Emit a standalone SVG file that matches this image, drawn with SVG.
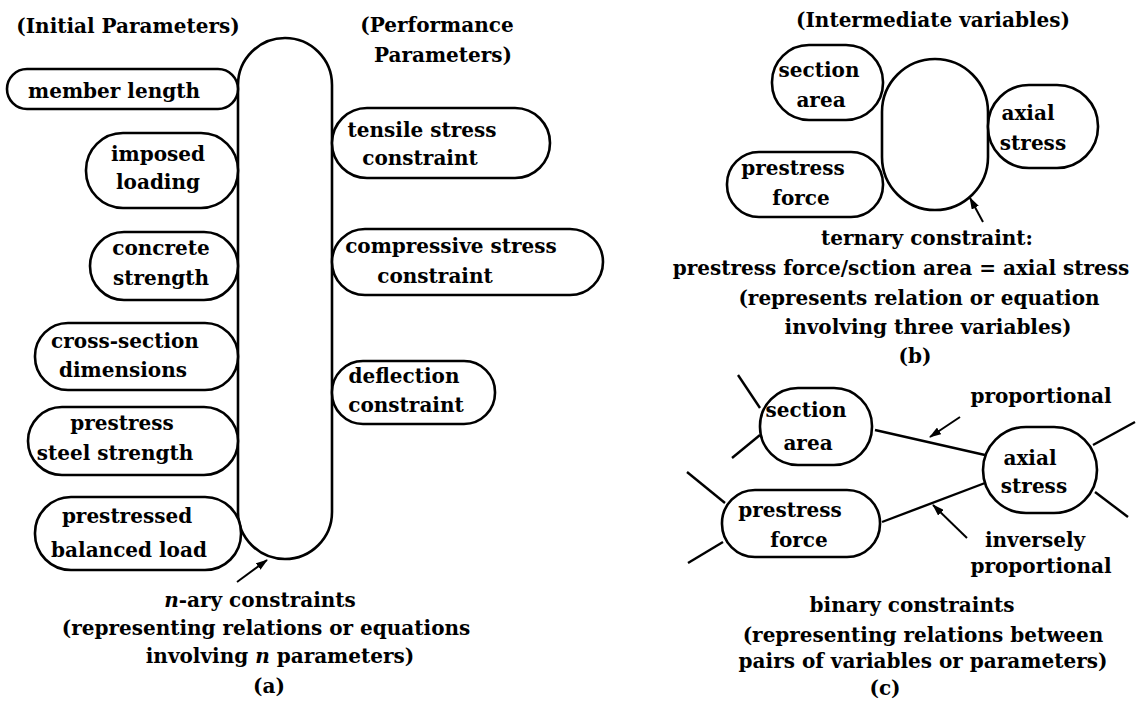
<svg xmlns="http://www.w3.org/2000/svg" width="1137" height="718" viewBox="0 0 1137 718">
<style>
text{font-family:"DejaVu Serif","Liberation Serif",serif;font-weight:bold;font-size:20px;fill:#000;text-anchor:middle}
.n{fill:#fff;stroke:#000;stroke-width:2.6}
.c{fill:none;stroke:#000;stroke-width:2.6}
.l{stroke:#000;stroke-width:2.4;fill:none}
.a{stroke:#000;stroke-width:2;fill:none;marker-end:url(#ah)}
</style>
<defs>
<marker id="ah" markerUnits="userSpaceOnUse" markerWidth="12" markerHeight="8" refX="11" refY="4" orient="auto">
<path d="M0,0 L12,4 L0,8 Z" fill="#000"/>
</marker>
</defs>
<rect width="1137" height="718" fill="#fff"/>

<!-- Panel (a) -->
<text x="128" y="33">(Initial Parameters)</text>
<text x="437" y="32">(Performance</text>
<text x="443" y="62">Parameters)</text>
<g id="nary"><rect class="c" x="238" y="38" width="94" height="521" rx="47"/></g>
<g id="member-length"><rect class="n" x="7" y="69" width="231" height="40" rx="20"/><text x="114" y="98">member length</text></g>
<g id="imposed-loading"><rect class="n" x="86" y="133" width="152" height="75" rx="37"/><text x="158" y="161">imposed</text><text x="158" y="189">loading</text></g>
<g id="concrete-strength"><rect class="n" x="90" y="232" width="148" height="68" rx="34"/><text x="161" y="255">concrete</text><text x="161" y="285">strength</text></g>
<g id="cross-section"><rect class="n" x="35" y="323" width="203" height="67" rx="33"/><text x="125" y="348">cross-section</text><text x="123" y="377">dimensions</text></g>
<g id="steel-strength"><rect class="n" x="28" y="407" width="210" height="68" rx="34"/><text x="122" y="430">prestress</text><text x="115" y="460">steel strength</text></g>
<g id="balanced-load"><rect class="n" x="35" y="497" width="206" height="73" rx="36"/><text x="127" y="523">prestressed</text><text x="129" y="557">balanced load</text></g>
<g id="tensile"><rect class="n" x="332" y="108" width="218" height="70" rx="35"/><text x="422" y="137">tensile stress</text><text x="420" y="165">constraint</text></g>
<g id="compressive"><rect class="n" x="332" y="229" width="271" height="66" rx="33"/><text x="451" y="253">compressive stress</text><text x="435" y="283">constraint</text></g>
<g id="deflection"><rect class="n" x="332" y="361" width="163" height="63" rx="31"/><text x="404" y="383">deflection</text><text x="406" y="412">constraint</text></g>
<text x="260" y="607"><tspan font-style="italic">n</tspan>-ary constraints</text>
<text x="266" y="635">(representing relations or equations</text>
<text x="280" y="663">involving <tspan font-style="italic">n</tspan> parameters)</text>
<text x="269" y="693">(a)</text>

<!-- Panel (b) -->
<text x="933" y="27">(Intermediate variables)</text>
<g id="ternary"><rect class="c" x="882" y="59" width="106" height="151" rx="53"/></g>
<g id="b-section-area"><rect class="n" x="772" y="45" width="111" height="75" rx="37"/><text x="819" y="77">section</text><text x="821" y="107">area</text></g>
<g id="b-prestress-force"><rect class="n" x="727" y="152" width="156" height="65" rx="32"/><text x="793" y="175">prestress</text><text x="801" y="205">force</text></g>
<g id="b-axial-stress"><rect class="n" x="988" y="85" width="110" height="83" rx="41"/><text x="1028" y="120">axial</text><text x="1033" y="150">stress</text></g>
<text x="927" y="245">ternary constraint:</text>
<text x="901" y="275">prestress force/sction area = axial stress</text>
<text x="919" y="305">(represents relation or equation</text>
<text x="928" y="334">involving three variables)</text>
<text x="915" y="363">(b)</text>

<!-- Panel (c) -->
<g id="connectors">
<line class="l" x1="738" y1="375" x2="760" y2="408"/>
<line class="l" x1="732" y1="458" x2="760" y2="435"/>
<line class="l" x1="875" y1="430" x2="985" y2="455"/>
<line class="l" x1="687" y1="472" x2="725" y2="503"/>
<line class="l" x1="688" y1="563" x2="723" y2="542"/>
<line class="l" x1="882" y1="522" x2="985" y2="483"/>
<line class="l" x1="1093" y1="445" x2="1135" y2="422"/>
<line class="l" x1="1095" y1="492" x2="1128" y2="517"/>
<line class="a" x1="960" y1="417" x2="930" y2="437"/>
<line class="a" x1="967" y1="538" x2="933" y2="505"/>
<line class="a" x1="237" y1="582" x2="267" y2="560"/>
<line class="a" x1="983" y1="222" x2="970" y2="198"/>
</g>
<g id="c-section-area"><rect class="n" x="760" y="388" width="112" height="77" rx="38"/><text x="806" y="417">section</text><text x="808" y="450">area</text></g>
<g id="c-prestress-force"><rect class="n" x="722" y="490" width="158" height="67" rx="33"/><text x="790" y="517">prestress</text><text x="799" y="547">force</text></g>
<g id="c-axial-stress"><rect class="n" x="983" y="427" width="114" height="86" rx="43"/><text x="1030" y="465">axial</text><text x="1034" y="493">stress</text></g>
<text x="1041" y="403">proportional</text>
<text x="1035" y="547">inversely</text>
<text x="1041" y="573">proportional</text>
<text x="912" y="612">binary constraints</text>
<text x="923" y="642">(representing relations between</text>
<text x="923" y="668">pairs of variables or parameters)</text>
<text x="885" y="695">(c)</text>
</svg>
